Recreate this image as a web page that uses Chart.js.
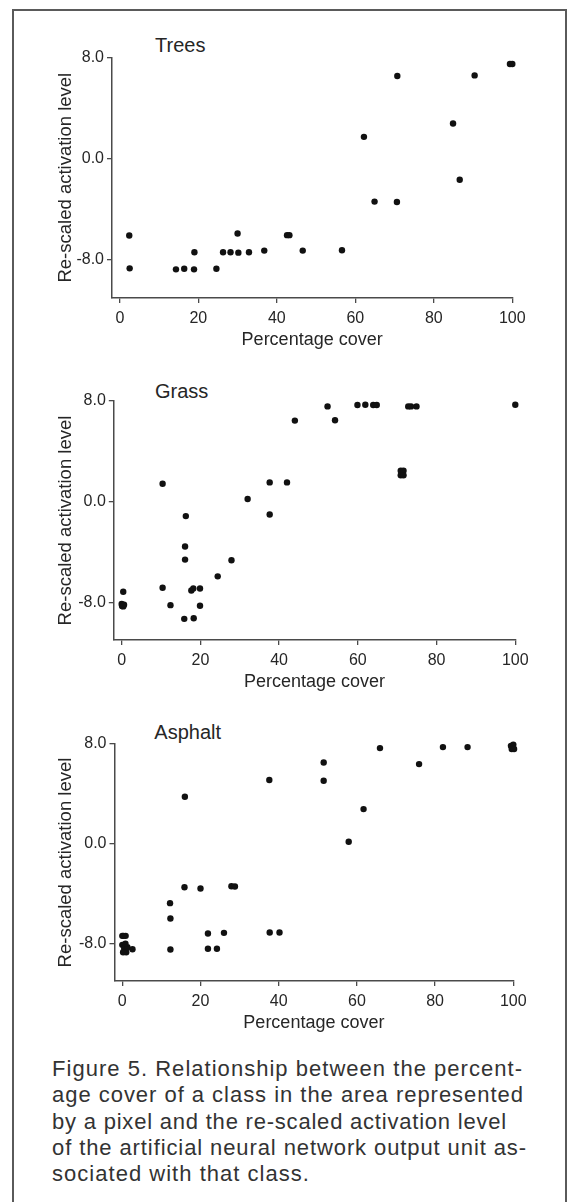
<!DOCTYPE html>
<html>
<head>
<meta charset="utf-8">
<script src="https://cdn.jsdelivr.net/npm/chart.js"></script>
<style>
  html, body { margin: 0; padding: 0; background: #fff; }
  body { width: 569px; height: 1202px; position: relative; overflow: hidden; font-family: "Liberation Sans", Arial, sans-serif; }
  #frame { position: absolute; left: 12px; top: 9px; width: 551px; height: 1300px; border: 2px solid #5a5a5a; box-sizing: content-box; }
  canvas { position: absolute; left: 0; }
  .ptitle { position: absolute; font-size: 20px; line-height: 20px; color: #262626; white-space: nowrap; }
  #caption { position: absolute; left: 52px; top: 1056px; font-size: 22px; line-height: 26.3px; color: #333; }
  #caption div { white-space: nowrap; }
</style>
</head>
<body>
<div id="frame"></div>
<div class="ptitle" style="left:155px; top:35.4px;">Trees</div>
<div class="ptitle" style="left:155px; top:381.4px;">Grass</div>
<div class="ptitle" style="left:154.3px; top:722.4px;">Asphalt</div>
<canvas id="c1" width="569" height="358" style="top:0px"></canvas>
<canvas id="c2" width="569" height="340" style="top:360px"></canvas>
<canvas id="c3" width="569" height="341" style="top:700px"></canvas>
<div id="caption">
  <div>Figure 5. Relationship between the percent-</div>
  <div>age cover of a class in the area represented</div>
  <div>by a pixel and the re-scaled activation level</div>
  <div>of the artificial neural network output unit as-</div>
  <div>sociated with that class.</div>
</div>
<script>
// ---- data ----
const xTicks = [0, 20, 40, 60, 80, 100];
const yTicks = [-8, 0, 8];
const xTitle = "Percentage cover";
const yTitle = "Re-scaled activation level";

const treesX = [2.4, 2.5, 14.3, 16.4, 18.9, 19.0, 24.6, 26.3, 28.2, 30.2, 30.0, 32.9, 36.8, 42.6, 43.2, 46.6, 56.6, 62.2, 64.9, 70.6, 70.7, 84.9, 86.6, 90.4, 99.4, 100];
const treesY = [-6.07, -8.66, -8.74, -8.69, -8.74, -7.39, -8.69, -7.39, -7.39, -7.42, -5.91, -7.39, -7.26, -6.04, -6.04, -7.26, -7.23, 1.72, -3.39, -3.42, 6.52, 2.78, -1.67, 6.57, 7.47, 7.47];

const grassX = [0.4, 0, 0.4, 0.1, 0.6, 10.4, 10.4, 12.4, 16.3, 16.1, 16.1, 15.9, 17.7, 18.2, 18.3, 19.9, 19.9, 24.4, 27.9, 32.0, 37.6, 37.6, 42.0, 44.0, 52.3, 54.2, 59.9, 61.9, 63.9, 64.8, 70.9, 71.6, 70.9, 71.6, 72.8, 73.5, 74.9, 100];
const grassY = [-7.16, -8.13, -8.33, -8.3, -8.2, 1.42, -6.85, -8.23, -1.15, -3.57, -4.61, -9.32, -7.06, -6.9, -9.27, -6.9, -8.28, -5.94, -4.66, 0.21, 1.53, -1.02, 1.53, 6.44, 7.57, 6.47, 7.68, 7.7, 7.68, 7.68, 2.45, 2.45, 2.1, 2.1, 7.57, 7.57, 7.57, 7.7];

const asphaltX = [0, 0.85, 0.3, 0, 0.5, 1.0, 0.2, 1.3, 0.8, 2.6, 12.2, 12.3, 12.3, 16.0, 15.9, 20.0, 21.9, 21.9, 24.2, 26.0, 27.9, 28.8, 37.6, 37.7, 40.2, 51.5, 51.5, 57.9, 61.7, 65.9, 75.9, 82.0, 88.3, 99.4, 100, 99.6, 100.2];
const asphaltY = [-7.38, -7.38, -7.38, -8.1, -8.4, -8.7, -8.7, -8.3, -8.0, -8.45, -4.76, -5.99, -8.48, 3.77, -3.48, -3.58, -7.19, -8.42, -8.42, -7.14, -3.40, -3.42, 5.11, -7.11, -7.11, 6.52, 5.05, 0.16, 2.78, 7.67, 6.39, 7.75, 7.75, 7.85, 7.95, 7.6, 7.6];

// ---- layout per panel ----
const panels = [
  { id: 'c1', xs: treesX, ys: treesY, padTop: 57.3, yWidth: 112, padRight: 56.7 },
  { id: 'c2', xs: grassX, ys: grassY, padTop: 41, yWidth: 113.8, padRight: 53.7 },
  { id: 'c3', xs: asphaltX, ys: asphaltY, padTop: 44, yWidth: 114.5, padRight: 55.7 }
];

const FONT = '"Liberation Sans", Arial, sans-serif';
const TXT = '#262626';
const AX = '#4a4a4a';

panels.forEach(p => {
  const pts = p.xs.map((x, i) => ({ x: x, y: p.ys[i] }));
  new Chart(document.getElementById(p.id), {
    type: 'scatter',
    data: { datasets: [{ data: pts, backgroundColor: '#111', borderWidth: 0, pointRadius: 3.2, pointHoverRadius: 3.2, clip: false }] },
    options: {
      responsive: false,
      animation: false,
      devicePixelRatio: 1,
      layout: { padding: { top: p.padTop, left: 0, right: p.padRight, bottom: 0 } },
      plugins: { legend: { display: false }, tooltip: { enabled: false } },
      scales: {
        x: {
          type: 'linear', min: -2, max: 100,
          afterBuildTicks: s => { s.ticks = xTicks.map(v => ({ value: v })); },
          afterFit: s => { s.height = 60; },
          ticks: { color: TXT, font: { family: FONT, size: 16 }, padding: 6, maxRotation: 0, callback: v => String(v) },
          grid: { drawOnChartArea: false, drawTicks: true, tickLength: 5, color: AX, lineWidth: 1.3 },
          border: { display: true, color: AX, width: 1.5 },
          title: { display: true, text: xTitle, color: TXT, font: { family: FONT, size: 18 }, padding: { top: 0, bottom: 7.5 } }
        },
        y: {
          type: 'linear', min: -11, max: 8,
          afterBuildTicks: s => { s.ticks = yTicks.map(v => ({ value: v })); },
          afterFit: s => { s.width = p.yWidth; },
          ticks: { color: TXT, font: { family: FONT, size: 16 }, padding: 3, callback: v => Number(v).toFixed(1) },
          grid: { drawOnChartArea: false, drawTicks: true, tickLength: 5, color: AX, lineWidth: 1.3 },
          border: { display: true, color: AX, width: 1.5 },
          title: { display: true, text: yTitle, color: TXT, font: { family: FONT, size: 18.5 }, padding: { top: 54.4, bottom: 0 } }
        }
      }
    }
  });
});

// fit caption lines to the reference line widths
(function () {
  const targets = [471, 472, 455, 475, 258];
  const lines = document.querySelectorAll('#caption div');
  lines.forEach((el, i) => {
    el.style.display = 'inline-block';
    const w = el.getBoundingClientRect().width;
    const n = el.textContent.length;
    el.style.letterSpacing = ((targets[i] - w) / n) + 'px';
    el.style.display = 'block';
  });
})();
</script>
</body>
</html>
